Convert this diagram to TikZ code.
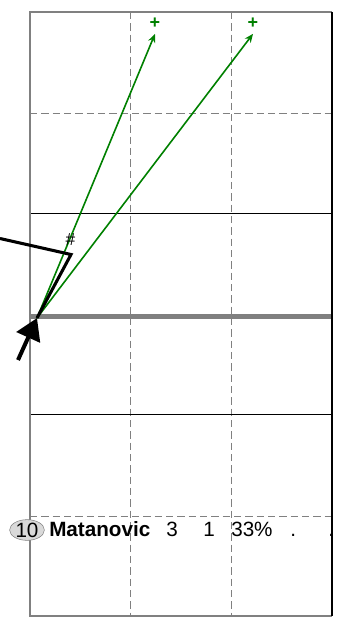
\documentclass[tikz,border=0pt]{standalone}
\usepackage{fontspec}
\setmainfont{Liberation Sans}
\usepackage{tikz}
\usetikzlibrary{arrows.meta,shapes.geometric}

\tikzset{
  court/.style={gray, line width=1.4pt},
  zoneline/.style={black, line width=0.7pt},
  halfline/.style={gray, dashed, dash pattern=on 5.5pt off 3pt, line width=0.7pt},
  midline/.style={gray, line width=4.2pt},
  passarrow/.style={-{Stealth[length=6.5pt,width=5.5pt]}, green!50!black, line width=1.2pt},
  runline/.style={black, line width=2.3pt},
  entryarrow/.style={-{Triangle[length=16pt,width=19pt]}, black, line width=3pt},
  target/.style={green!50!black, font=\bfseries\fontsize{13.5}{14}\selectfont, inner sep=0pt},
  rowtext/.style={font=\fontsize{15.5}{18}\selectfont, inner sep=0pt, anchor=base west},
}

\begin{document}
\begin{tikzpicture}[x=0.75pt, y=-0.75pt]

        \useasboundingbox (0,0) rectangle (352,618);

        %% ── Feld und Linien ───────────────────────────────────────────────
        \draw[halfline] (130,12) -- (130,616);
        \draw[halfline] (231,12) -- (231,616);
        \draw[halfline] (30,113) -- (332,113);
        \draw[halfline] (30,516) -- (332,516);
        \draw[zoneline] (30,213) -- (332,213);
        \draw[zoneline] (30,414) -- (332,414);
        \draw[midline] (30,316.5) -- (332,316.5);
        \draw[court] (332,12) -- (30,12) -- (30,616) -- (332,616);
        \draw[zoneline, line width=0.9pt] (332,12) -- (332,616);

        %% ── Ziele und Pässe ───────────────────────────────────────────────
        \coordinate (start) at (37,318);
        \node[target] (zielA) at (155,23) {+};
        \node[target] (zielB) at (253,23) {+};
        \draw[passarrow] (start) -- ([yshift=-4pt]zielA.south);
        \draw[passarrow] (start) -- ([yshift=-4pt]zielB.south);

        %% ── Laufweg und Einstieg ──────────────────────────────────────────
        \coordinate (lauf) at (0,238.5);
        \coordinate (knick) at (71,254.5);
        \node[font=\fontsize{13}{14}\selectfont, inner sep=0pt] (raute) at (70.5,240) {\#};
        \draw[runline] (lauf) -- (knick) -- (start);
        \coordinate (einstieg) at (18,360);
        \draw[entryarrow] (einstieg) -- (start);

        %% ── Spielerzeile ──────────────────────────────────────────────────
        \node[draw=gray, fill=gray!30, ellipse, inner xsep=0.6pt, inner ysep=0pt,
              minimum width=22pt, minimum height=14pt,
              font=\fontsize{15.5}{18}\selectfont] (nummer) at (27,530) {10};
        \node[rowtext, font=\bfseries\fontsize{15.5}{18}\selectfont] (name) at (49,536) {Matanovic};
        \node[rowtext] (versuche) at (166,536) {3};
        \node[rowtext] (treffer) at (203,536) {1};
        \node[rowtext] (quote) at (231,536) {33\%};
        \node[rowtext] (punktA) at (290,536) {.};
        \node[rowtext] (punktB) at (328,536) {.};

    \end{tikzpicture}
\end{document}
